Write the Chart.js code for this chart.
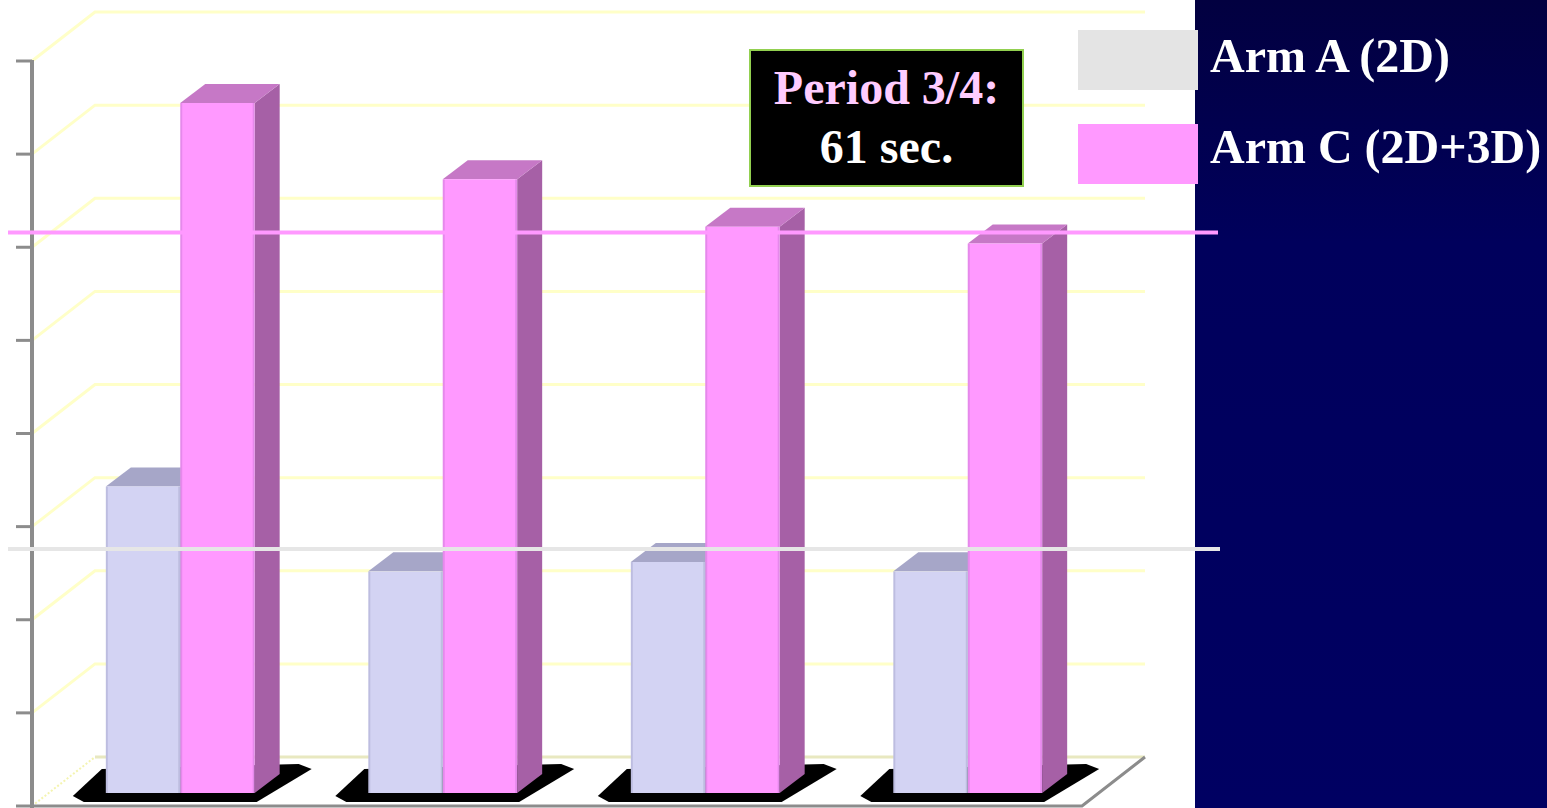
<!DOCTYPE html>
<html>
<head>
<meta charset="utf-8">
<script src="https://cdn.jsdelivr.net/npm/chart.js@4.4.0/dist/chart.umd.min.js"></script>
<style>
  html, body { margin: 0; padding: 0; background: #ffffff; overflow: hidden; }
  #wrap { position: relative; width: 1547px; height: 808px; }
  #c { position: absolute; left: 0; top: 0; }
  .lbox { position: absolute; left: 1078px; width: 120px; height: 60px; }
  .ltext { position: absolute; left: 1210px; font: bold 48px "Liberation Serif", "Times New Roman", serif; line-height: 48px; color: #ffffff; white-space: nowrap; }
  #note { position: absolute; left: 749px; top: 49px; width: 275px; height: 138px; box-sizing: border-box;
          background: #000000; border: 2px solid #92d050; padding-top: 7px; text-align: center;
          font: bold 48px "Liberation Serif", "Times New Roman", serif; line-height: 59px; }
  #note .l1 { color: #ffccff; display: block; }
  #note .l2 { color: #ffffff; display: block; }
</style>
</head>
<body>
<div id="wrap">
  <canvas id="c" width="1547" height="808"></canvas>
  <div id="legend"></div>
  <div id="note"><span class="l1">Period 3/4:</span><span class="l2">61 sec.</span></div>
</div>
<script>
// ---- data ----
const categories = ['1', '2', '3', '4'];
const seriesNames = ['Arm A (2D)', 'Arm C (2D+3D)'];
const armA = [32.9, 23.8, 24.8, 23.8];
const armC = [74.1, 65.9, 60.8, 59.0];
const refLineValues = [60.2, 26.2];
const yTickValues = [0, 10, 20, 30, 40, 50, 60, 70, 80];

// ---- styles ----
const frontColors = ['#d3d3f3', '#ff99ff'];
const topColors = ['#a6a6c8', '#c678c6'];
const sideColors = ['#9a9ac0', '#a660a6'];
const legendColors = ['#e4e4e4', '#ff99ff'];
const refLineColors = ['#ff99ff', '#e6e6e6'];
const DEPTH = { dx: 25, dy: 19 };     // bar depth
const FRONT = { dx: -17, dy: 13 };    // bar plane -> front plane
const BACK = { dx: 46, dy: -36 };     // bar plane -> back wall

// legend (HTML text)
const legendEl = document.getElementById('legend');
const legendTops = [30, 124];
const legendTextTops = [32, 123];
seriesNames.forEach((name, i) => {
  const b = document.createElement('div');
  b.className = 'lbox';
  b.style.top = legendTops[i] + 'px';
  b.style.background = legendColors[i];
  legendEl.appendChild(b);
  const t = document.createElement('div');
  t.className = 'ltext';
  t.style.top = legendTextTops[i] + 'px';
  t.textContent = name;
  legendEl.appendChild(t);
});

const scene3d = {
  id: 'scene3d',
  beforeDraw(chart) {
    const ctx = chart.ctx;
    ctx.save();
    ctx.fillStyle = '#ffffff';
    ctx.fillRect(0, 0, 1195, chart.height);
    const g = ctx.createLinearGradient(0, 0, 0, chart.height);
    g.addColorStop(0, '#020040');
    g.addColorStop(0.3, '#00005c');
    g.addColorStop(1, '#000062');
    ctx.fillStyle = g;
    ctx.fillRect(1195, 0, chart.width - 1195, chart.height);
    ctx.restore();
  },
  beforeDatasetsDraw(chart) {
    const ctx = chart.ctx;
    const ys = chart.scales.y;
    const area = chart.chartArea;
    const fx = area.left + FRONT.dx;
    const fxr = area.right + FRONT.dx;
    const bx = area.left + BACK.dx;
    const bxr = area.right + BACK.dx;
    const fy = v => ys.getPixelForValue(v) + FRONT.dy;
    const by = v => ys.getPixelForValue(v) + BACK.dy;
    ctx.save();
    ctx.lineCap = 'butt';
    // wall gridlines
    ctx.strokeStyle = '#ffffc8';
    ctx.lineWidth = 3;
    yTickValues.forEach(v => {
      if (v === 0) return;
      ctx.beginPath();
      ctx.moveTo(fx, fy(v));
      ctx.lineTo(bx, by(v));
      ctx.lineTo(bxr, by(v));
      ctx.stroke();
    });
    // floor
    ctx.lineWidth = 2;
    ctx.setLineDash([2, 2]);
    ctx.strokeStyle = '#f4f4b0';
    ctx.beginPath();
    ctx.moveTo(fx, fy(0));
    ctx.lineTo(bx, by(0));
    ctx.stroke();
    ctx.setLineDash([]);
    ctx.strokeStyle = '#e8e8c0';
    ctx.lineWidth = 3;
    ctx.beginPath();
    ctx.moveTo(bx, by(0));
    ctx.lineTo(bxr, by(0));
    ctx.stroke();
    ctx.strokeStyle = '#8c8c8c';
    ctx.lineWidth = 3;
    ctx.beginPath();
    ctx.moveTo(bxr, by(0));
    ctx.lineTo(fxr, fy(0));
    ctx.lineTo(fx, fy(0));
    ctx.stroke();
    // front axis
    ctx.strokeStyle = '#8c8c8c';
    ctx.lineWidth = 4;
    ctx.beginPath();
    ctx.moveTo(fx, fy(yTickValues[yTickValues.length - 1]) - 1);
    ctx.lineTo(fx, fy(0) + 2);
    ctx.stroke();
    ctx.lineWidth = 3;
    yTickValues.forEach(v => {
      ctx.beginPath();
      ctx.moveTo(fx - 16, fy(v));
      ctx.lineTo(fx, fy(v));
      ctx.stroke();
    });
    // shadows per category
    const m0 = chart.getDatasetMeta(0).data;
    const m1 = chart.getDatasetMeta(1).data;
    ctx.fillStyle = '#000000';
    m0.forEach((a, i) => {
      const c = m1[i];
      const L = a.x - a.width / 2;
      const R = c.x + c.width / 2;
      const base = a.base;
      ctx.beginPath();
      ctx.moveTo(L - 33, base + 3);
      ctx.lineTo(L - 4, base - 24);
      ctx.lineTo(R + 44, base - 29);
      ctx.lineTo(R + 57, base - 24);
      ctx.lineTo(R + 2, base + 9);
      ctx.lineTo(L - 22, base + 9);
      ctx.closePath();
      ctx.fill();
    });
    // bar top and side faces
    [0, 1].forEach(di => {
      chart.getDatasetMeta(di).data.forEach(el => {
        const l = el.x - el.width / 2, r = el.x + el.width / 2;
        const t = el.y, b = el.base;
        ctx.fillStyle = sideColors[di];
        ctx.beginPath();
        ctx.moveTo(r, t);
        ctx.lineTo(r + DEPTH.dx, t - DEPTH.dy);
        ctx.lineTo(r + DEPTH.dx, b - DEPTH.dy);
        ctx.lineTo(r, b);
        ctx.closePath();
        ctx.fill();
        ctx.fillStyle = topColors[di];
        ctx.beginPath();
        ctx.moveTo(l, t);
        ctx.lineTo(l + DEPTH.dx, t - DEPTH.dy);
        ctx.lineTo(r + DEPTH.dx, t - DEPTH.dy);
        ctx.lineTo(r, t);
        ctx.closePath();
        ctx.fill();
      });
    });
    ctx.restore();
  },
  afterDatasetsDraw(chart) {
    const ctx = chart.ctx;
    const ys = chart.scales.y;
    ctx.save();
    [0, 1].forEach(di => {
      chart.getDatasetMeta(di).data.forEach(el => {
        const l = el.x - el.width / 2, r = el.x + el.width / 2;
        ctx.fillStyle = 'rgba(0,0,60,0.10)';
        ctx.fillRect(l, el.y, 2, el.base - el.y);
        ctx.fillRect(r - 2, el.y, 2, el.base - el.y);
      });
    });
    // reference lines
    const ends = [1218, 1220];
    refLineValues.forEach((v, i) => {
      const y = ys.getPixelForValue(v);
      ctx.strokeStyle = refLineColors[i];
      ctx.lineWidth = 4;
      ctx.beginPath();
      ctx.moveTo(8, y);
      ctx.lineTo(ends[i], y);
      ctx.stroke();
    });
    ctx.restore();
  }
};

new Chart(document.getElementById('c'), {
  type: 'bar',
  data: {
    labels: categories,
    datasets: [
      { label: seriesNames[0], data: armA, backgroundColor: frontColors[0], borderWidth: 0,
        barPercentage: 1.0, categoryPercentage: 0.567 },
      { label: seriesNames[1], data: armC, backgroundColor: frontColors[1], borderWidth: 0,
        barPercentage: 1.0, categoryPercentage: 0.567 }
    ]
  },
  options: {
    responsive: false,
    animation: false,
    layout: { padding: { left: 49, top: 48, right: 448, bottom: 15 } },
    plugins: { legend: { display: false }, tooltip: { enabled: false } },
    scales: {
      x: { display: false },
      y: { display: false, min: 0, max: 80 }
    }
  },
  plugins: [scene3d]
});
</script>
</body>
</html>
